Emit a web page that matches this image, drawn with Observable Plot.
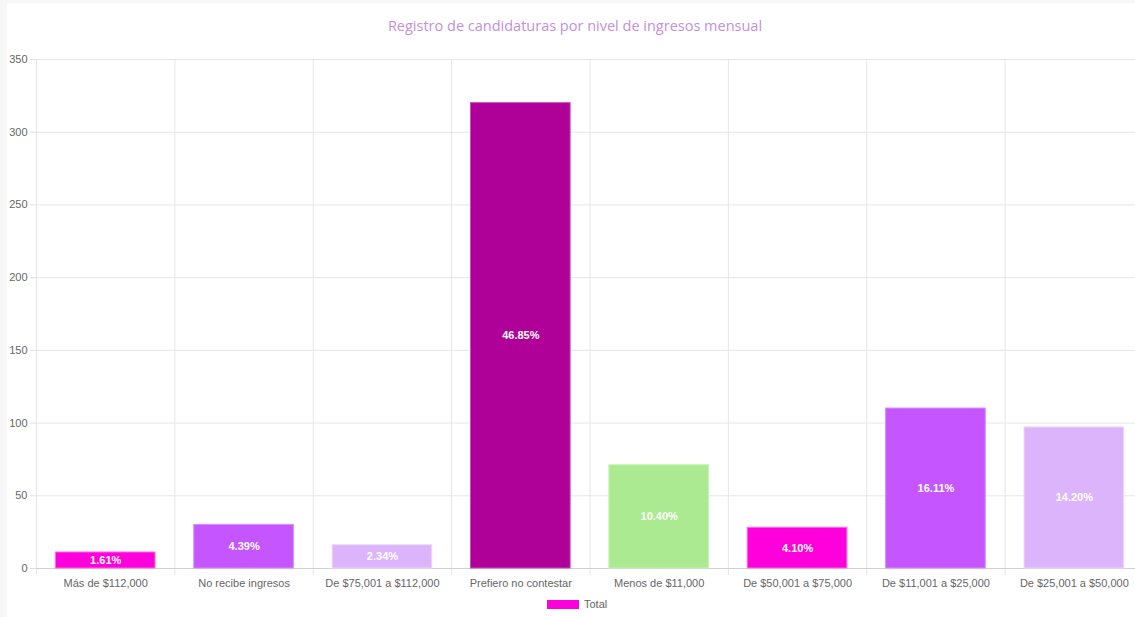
<!DOCTYPE html>
<html>
<head>
<meta charset="utf-8">
<script src="https://cdn.jsdelivr.net/npm/d3@7"></script>
<script src="https://cdn.jsdelivr.net/npm/@observablehq/plot@0.6"></script>
<style>
  html, body { margin: 0; padding: 0; background: #f7f7f7; overflow: hidden; width: 1135px; height: 617px; }
  #card { position: absolute; left: 7px; top: 3px; width: 1128px; height: 614px; background: #fff; overflow: hidden; }
  #title { position: absolute; left: 4px; width: 1128px; top: 13px; text-align: center; font-family: "Open Sans", sans-serif; font-size: 14.5px; color: #c390da; }
  #chart { position: absolute; left: 0; top: 42px; }
  #legend { position: absolute; top: 595px; left: 540px; font-family: "Liberation Sans", Arial, sans-serif; font-size: 11px; color: #666; display: flex; align-items: center; }
  #legend .sw { width: 32px; height: 9px; background: #ff00dd; margin-right: 5px; }
</style>
</head>
<body>
<div id="card">
  <div id="title">Registro de candidaturas por nivel de ingresos mensual</div>
  <div id="chart"></div>
  <div id="legend"><span class="sw"></span><span>Total</span></div>
</div>
<script>
const categories = ["Más de $112,000", "No recibe ingresos", "De $75,001 a $112,000", "Prefiero no contestar", "Menos de $11,000", "De $50,001 a $75,000", "De $11,001 a $25,000", "De $25,001 a $50,000"];
const values = [11, 30, 16, 320, 71, 28, 110, 97];
const colors = ["#ff00dd", "#c455ff", "#dcb4fc", "#af0098", "#abea90", "#ff00dd", "#c455ff", "#dcb4fc"];
const borders = ["#ff66ea", "#d68cff", "#ecd6fe", "#c94db8", "#c8f3b6", "#ff66ea", "#d68cff", "#ecd6fe"];
const yTicks = [0, 50, 100, 150, 200, 250, 300, 350];
const seriesName = "Total";

const total = d3.sum(values);
const data = categories.map((c, i) => ({
  cat: c, value: values[i], color: colors[i], border: borders[i],
  label: (values[i] / total * 100).toFixed(2) + "%"
}));

const width = 1128, height = 553;
const xRange = [29, 1136];
const bw = (xRange[1] - xRange[0]) / categories.length;
const inset = bw * 0.14;

const chart = Plot.plot({
  width, height,
  marginTop: 14, marginBottom: 30, marginLeft: 29, marginRight: 0,
  style: { fontFamily: "'Liberation Sans', Arial, sans-serif", fontSize: "11px", color: "#666", overflow: "visible" },
  x: { domain: categories, range: xRange, padding: 0, round: false, label: null },
  y: { domain: [0, 350], ticks: yTicks, label: null },
  marks: [
    Plot.gridY(yTicks, { stroke: "#e6e6e6", strokeOpacity: 1 }),
    Plot.ruleX(categories, { x: d => d, dx: -bw / 2, y1: 350, y2: 0, insetBottom: -7, stroke: "#e6e6e6" }),
    Plot.ruleY([0], { stroke: "#d0d0d0" }),
    Plot.barY(data, { x: "cat", y: "value", fill: "color", stroke: "border", strokeWidth: 1, insetLeft: inset, insetRight: inset }),
    Plot.text(data, { x: "cat", y: d => d.value / 2, text: "label", fill: "#fff", fontWeight: "bold", fontSize: 11 }),
    Plot.axisY(yTicks, { tickSize: 6, tickPadding: 3, stroke: "#e0e0e0", fill: "#666", fontSize: 11, label: null }),
    Plot.axisX({ tickSize: 0, tickPadding: 11, fill: "#666", fontSize: 11, label: null })
  ]
});
document.getElementById("chart").appendChild(chart);
document.querySelector("#legend span:last-child").textContent = seriesName;
</script>
</body>
</html>
